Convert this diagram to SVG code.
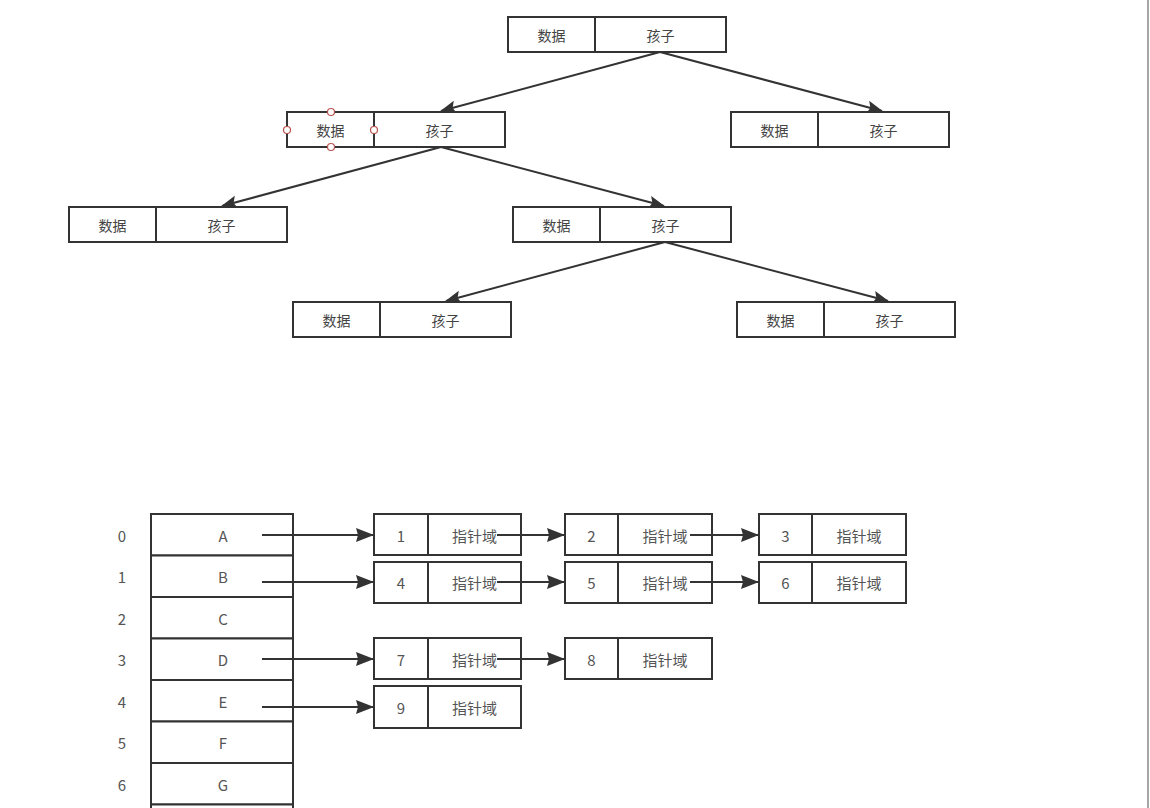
<svg xmlns="http://www.w3.org/2000/svg" width="1150" height="808" viewBox="0 0 1150 808">
<defs>
<style>
.box{fill:#fff;stroke:#333;stroke-width:2}
.ln{fill:none;stroke:#333;stroke-width:2}
.t{font-family:"Noto Sans CJK SC","Liberation Sans",sans-serif;font-size:14px;fill:#444;text-anchor:middle;dominant-baseline:central}
.t2{font-family:"Noto Sans CJK SC","Liberation Sans",sans-serif;font-size:15px;fill:#555;text-anchor:middle;dominant-baseline:central}
.h{fill:#fff;stroke:#b85450;stroke-width:1.2}
</style>
<marker id="ar" markerWidth="16" markerHeight="14" refX="15" refY="7" orient="auto" markerUnits="userSpaceOnUse" viewBox="0 0 16 14">
<path d="M0,0.5 L16,7 L0,13.5 L3,7 Z" fill="#333"/>
</marker>
<marker id="ar2" markerWidth="18" markerHeight="16" refX="17" refY="8" orient="auto" markerUnits="userSpaceOnUse" viewBox="0 0 18 16">
<path d="M0,1 L18,8 L0,15 L2,8 Z" fill="#333"/>
</marker>
</defs>
<rect width="1150" height="808" fill="#fff"/>
<line x1="1148" y1="0" x2="1148" y2="808" stroke="#888" stroke-width="1.5"/>

<g id="connectors">
<line class="ln" x1="660" y1="52" x2="441" y2="111" marker-end="url(#ar)"/>
<line class="ln" x1="660" y1="52" x2="882" y2="111" marker-end="url(#ar)"/>
<line class="ln" x1="441" y1="147" x2="222" y2="206" marker-end="url(#ar)"/>
<line class="ln" x1="441" y1="147" x2="664" y2="206" marker-end="url(#ar)"/>
<line class="ln" x1="665" y1="242" x2="446" y2="301" marker-end="url(#ar)"/>
<line class="ln" x1="665" y1="242" x2="888" y2="301" marker-end="url(#ar)"/>

<line class="ln" x1="262" y1="535" x2="373" y2="535" marker-end="url(#ar2)"/>
<line class="ln" x1="497" y1="535" x2="564" y2="535" marker-end="url(#ar2)"/>
<line class="ln" x1="690" y1="535" x2="758" y2="535" marker-end="url(#ar2)"/>
<line class="ln" x1="262" y1="582" x2="373" y2="582" marker-end="url(#ar2)"/>
<line class="ln" x1="497" y1="582" x2="564" y2="582" marker-end="url(#ar2)"/>
<line class="ln" x1="690" y1="582" x2="758" y2="582" marker-end="url(#ar2)"/>
<line class="ln" x1="262" y1="659" x2="373" y2="659" marker-end="url(#ar2)"/>
<line class="ln" x1="497" y1="659" x2="564" y2="659" marker-end="url(#ar2)"/>
<line class="ln" x1="262" y1="707" x2="373" y2="707" marker-end="url(#ar2)"/>
</g>

<g id="tree-root">
<rect class="box" x="508" y="17" width="218" height="35"/>
<line class="ln" x1="595" y1="17" x2="595" y2="52"/>
<text class="t" x="551.5" y="35">数据</text><text class="t" x="660.5" y="35">孩子</text>
</g>
<g id="tree-l1">
<rect class="box" x="287" y="112" width="218" height="35"/>
<line class="ln" x1="374" y1="112" x2="374" y2="147"/>
<text class="t" x="330.5" y="130">数据</text><text class="t" x="439.5" y="130">孩子</text>
<circle class="h" cx="331" cy="112" r="3.5"/>
<circle class="h" cx="287" cy="130" r="3.5"/>
<circle class="h" cx="374" cy="130" r="3.5"/>
<circle class="h" cx="331" cy="147" r="3.5"/>
</g>
<g id="tree-r1">
<rect class="box" x="731" y="112" width="218" height="35"/>
<line class="ln" x1="818" y1="112" x2="818" y2="147"/>
<text class="t" x="774.5" y="130">数据</text><text class="t" x="883.5" y="130">孩子</text>
</g>
<g id="tree-l2a">
<rect class="box" x="69" y="207" width="218" height="35"/>
<line class="ln" x1="156" y1="207" x2="156" y2="242"/>
<text class="t" x="112.5" y="225">数据</text><text class="t" x="221.5" y="225">孩子</text>
</g>
<g id="tree-l2b">
<rect class="box" x="513" y="207" width="218" height="35"/>
<line class="ln" x1="600" y1="207" x2="600" y2="242"/>
<text class="t" x="556.5" y="225">数据</text><text class="t" x="665.5" y="225">孩子</text>
</g>
<g id="tree-l3a">
<rect class="box" x="293" y="302" width="218" height="35"/>
<line class="ln" x1="380" y1="302" x2="380" y2="337"/>
<text class="t" x="336.5" y="320">数据</text><text class="t" x="445.5" y="320">孩子</text>
</g>
<g id="tree-l3b">
<rect class="box" x="737" y="302" width="218" height="35"/>
<line class="ln" x1="824" y1="302" x2="824" y2="337"/>
<text class="t" x="780.5" y="320">数据</text><text class="t" x="889.5" y="320">孩子</text>
</g>

<g id="array">
<rect class="box" x="151" y="514" width="142" height="41.5"/>
<rect class="box" x="151" y="555.5" width="142" height="41.5"/>
<rect class="box" x="151" y="597" width="142" height="41.5"/>
<rect class="box" x="151" y="638.5" width="142" height="41.5"/>
<rect class="box" x="151" y="680" width="142" height="41.5"/>
<rect class="box" x="151" y="721.5" width="142" height="41.5"/>
<rect class="box" x="151" y="763" width="142" height="41.5"/>
<rect class="box" x="151" y="804.5" width="142" height="41.5"/>
<text class="t2" x="223" y="535">A</text>
<text class="t2" x="223" y="576.5">B</text>
<text class="t2" x="223" y="618">C</text>
<text class="t2" x="223" y="659.5">D</text>
<text class="t2" x="223" y="701">E</text>
<text class="t2" x="223" y="742.5">F</text>
<text class="t2" x="223" y="784">G</text>
</g>
<g id="indices">
<text class="t2" x="122" y="535">0</text>
<text class="t2" x="122" y="576.5">1</text>
<text class="t2" x="122" y="618">2</text>
<text class="t2" x="122" y="659.5">3</text>
<text class="t2" x="122" y="701">4</text>
<text class="t2" x="122" y="742.5">5</text>
<text class="t2" x="122" y="784">6</text>
</g>

<g id="node-1"><rect class="box" x="374" y="514" width="147" height="41"/><line class="ln" x1="428" y1="514" x2="428" y2="555"/><text class="t2" x="401" y="535">1</text><text class="t2" x="474.5" y="535">指针域</text></g>
<g id="node-2"><rect class="box" x="565" y="514" width="147" height="41"/><line class="ln" x1="618" y1="514" x2="618" y2="555"/><text class="t2" x="591.5" y="535">2</text><text class="t2" x="665" y="535">指针域</text></g>
<g id="node-3"><rect class="box" x="759" y="514" width="147" height="41"/><line class="ln" x1="812" y1="514" x2="812" y2="555"/><text class="t2" x="785.5" y="535">3</text><text class="t2" x="859" y="535">指针域</text></g>
<g id="node-4"><rect class="box" x="374" y="562" width="147" height="41"/><line class="ln" x1="428" y1="562" x2="428" y2="603"/><text class="t2" x="401" y="582.5">4</text><text class="t2" x="474.5" y="582.5">指针域</text></g>
<g id="node-5"><rect class="box" x="565" y="562" width="147" height="41"/><line class="ln" x1="618" y1="562" x2="618" y2="603"/><text class="t2" x="591.5" y="582.5">5</text><text class="t2" x="665" y="582.5">指针域</text></g>
<g id="node-6"><rect class="box" x="759" y="562" width="147" height="41"/><line class="ln" x1="812" y1="562" x2="812" y2="603"/><text class="t2" x="785.5" y="582.5">6</text><text class="t2" x="859" y="582.5">指针域</text></g>
<g id="node-7"><rect class="box" x="374" y="638" width="147" height="41"/><line class="ln" x1="428" y1="638" x2="428" y2="679"/><text class="t2" x="401" y="659">7</text><text class="t2" x="474.5" y="659">指针域</text></g>
<g id="node-8"><rect class="box" x="565" y="638" width="147" height="41"/><line class="ln" x1="618" y1="638" x2="618" y2="679"/><text class="t2" x="591.5" y="659">8</text><text class="t2" x="665" y="659">指针域</text></g>
<g id="node-9"><rect class="box" x="374" y="686" width="147" height="42"/><line class="ln" x1="428" y1="686" x2="428" y2="728"/><text class="t2" x="401" y="707">9</text><text class="t2" x="474.5" y="707">指针域</text></g>

<g id="overlay-arrows">
<line class="ln" x1="497" y1="535" x2="521" y2="535"/>
<line class="ln" x1="690" y1="535" x2="712" y2="535"/>
<line class="ln" x1="497" y1="582" x2="521" y2="582"/>
<line class="ln" x1="690" y1="582" x2="712" y2="582"/>
<line class="ln" x1="497" y1="659" x2="521" y2="659"/>
<line class="ln" x1="262" y1="535" x2="293" y2="535"/>
<line class="ln" x1="262" y1="582" x2="293" y2="582"/>
<line class="ln" x1="262" y1="659" x2="293" y2="659"/>
<line class="ln" x1="262" y1="707" x2="293" y2="707"/>
</g>
</svg>
